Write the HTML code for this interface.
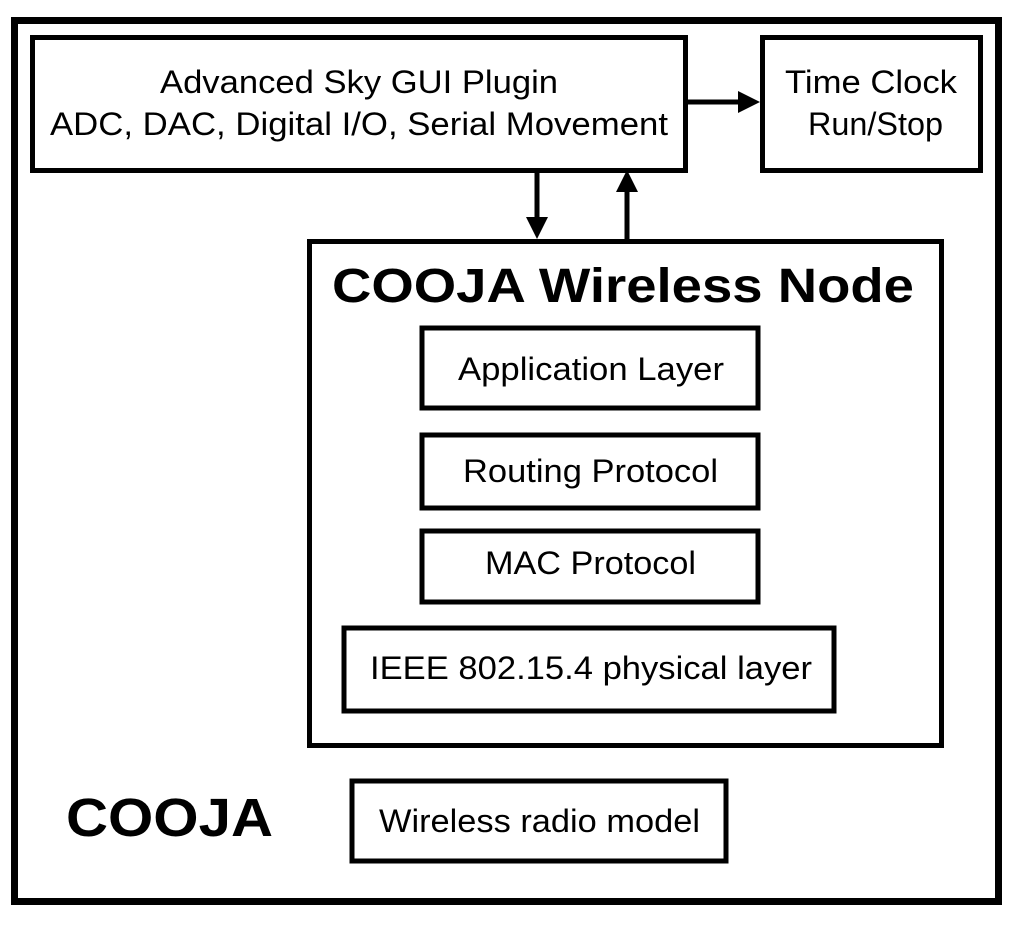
<!DOCTYPE html>
<html><head><style>
body{margin:0;background:#fff;width:1024px;height:928px;overflow:hidden}
svg text{font-family:"Liberation Sans",Arial,sans-serif;fill:#000}
</style></head><body>
<svg width="1024" height="928" viewBox="0 0 1024 928">
<g fill="none" stroke="#000">
<rect x="14.5" y="20.5" width="984" height="881" stroke-width="7"/>
<rect x="32.5" y="37.5" width="653" height="133" stroke-width="5"/>
<rect x="762.5" y="37.5" width="218" height="133" stroke-width="5"/>
<rect x="309.5" y="241.5" width="632" height="504" stroke-width="5"/>
<rect x="422" y="328" width="336" height="80" stroke-width="5"/>
<rect x="422" y="435" width="336" height="73" stroke-width="5"/>
<rect x="422" y="531" width="336" height="71" stroke-width="5"/>
<rect x="344" y="628" width="490" height="83" stroke-width="5"/>
<rect x="352" y="781" width="374" height="80" stroke-width="5"/>
<line x1="688" y1="102" x2="742" y2="102" stroke-width="5"/>
<line x1="537" y1="172" x2="537" y2="220" stroke-width="5"/>
<line x1="627" y1="239" x2="627" y2="190" stroke-width="5"/>
</g>
<polygon points="760,102 738,91 738,113" fill="#000"/>
<polygon points="537,239 526,217 548,217" fill="#000"/>
<polygon points="627,170 616,192 638,192" fill="#000"/>
<g font-size="32" lengthAdjust="spacingAndGlyphs">
<text x="160" y="93" textLength="398" lengthAdjust="spacingAndGlyphs">Advanced Sky GUI Plugin</text>
<text x="50" y="135" textLength="618" lengthAdjust="spacingAndGlyphs">ADC, DAC, Digital I/O, Serial Movement</text>
<text x="785" y="93" textLength="172" lengthAdjust="spacingAndGlyphs">Time Clock</text>
<text x="808" y="135" textLength="135" lengthAdjust="spacingAndGlyphs">Run/Stop</text>
<text x="458" y="380" textLength="266" lengthAdjust="spacingAndGlyphs">Application Layer</text>
<text x="463" y="482" textLength="255" lengthAdjust="spacingAndGlyphs">Routing Protocol</text>
<text x="485" y="574" textLength="211" lengthAdjust="spacingAndGlyphs">MAC Protocol</text>
<text x="370" y="679" textLength="442" lengthAdjust="spacingAndGlyphs">IEEE 802.15.4 physical layer</text>
<text x="379" y="832" textLength="321" lengthAdjust="spacingAndGlyphs">Wireless radio model</text>
</g>
<text x="332" y="302" font-size="48" font-weight="bold" textLength="582" lengthAdjust="spacingAndGlyphs">COOJA Wireless Node</text>
<text x="66" y="836" font-size="54" font-weight="bold" textLength="207" lengthAdjust="spacingAndGlyphs">COOJA</text>
</svg>
</body></html>
